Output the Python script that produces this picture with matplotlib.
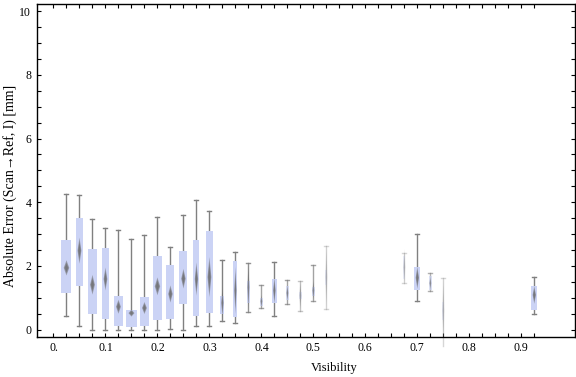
import numpy as np
import matplotlib
matplotlib.use("Agg")
import matplotlib.pyplot as plt
from matplotlib.patches import Polygon, Rectangle
from matplotlib.ticker import FixedLocator, FixedFormatter

plt.rcParams["font.family"] = ["Liberation Serif", "DejaVu Serif"]
plt.rcParams["font.size"] = 8.5

# visibility bins and box statistics
visibility = [0.025, 0.05, 0.075, 0.1, 0.125, 0.15, 0.175, 0.2, 0.225, 0.25,
              0.275, 0.3, 0.325, 0.35, 0.375, 0.4, 0.425, 0.45, 0.475, 0.5,
              0.525, 0.675, 0.7, 0.725, 0.75, 0.925]
whisk_lo = [0.44, 0.13, 0.0, 0.0, 0.0, 0.0, 0.0, 0.0, 0.02, 0.0,
            0.12, 0.12, 0.27, 0.21, 0.54, 0.69, 0.43, 0.81, 0.60, 0.89,
            0.65, 1.47, 0.90, 1.22, -0.5, 0.48]
q1 = [1.14, 1.36, 0.48, 0.34, 0.12, 0.07, 0.12, 0.29, 0.33, 0.80,
      0.42, 0.51, 0.48, 0.40, 0.84, 0.75, 0.83, 0.94, 0.95, 1.05,
      1.41, 1.60, 1.24, 1.25, 0.31, 0.61]
median = [1.94, 2.48, 1.41, 1.59, 0.72, 0.52, 0.68, 1.36, 1.12, 1.60,
          1.59, 1.65, 0.84, 1.23, 1.33, 0.89, 1.23, 1.15, 1.07, 1.23,
          1.65, 1.96, 1.63, 1.46, 0.60, 1.09]
q3 = [2.80, 3.49, 2.52, 2.55, 1.07, 0.63, 1.04, 2.30, 2.04, 2.48,
      2.80, 3.11, 1.07, 2.14, 1.54, 0.98, 1.60, 1.38, 1.19, 1.35,
      1.88, 2.30, 1.98, 1.68, 0.88, 1.38]
whisk_hi = [4.27, 4.24, 3.48, 3.20, 3.13, 2.85, 2.98, 3.54, 2.60, 3.61,
            4.08, 3.73, 2.19, 2.44, 2.08, 1.40, 2.13, 1.56, 1.54, 2.04,
            2.64, 2.41, 3.01, 1.78, 1.63, 1.66]
notch = [0.24, 0.41, 0.31, 0.36, 0.22, 0.11, 0.19, 0.28, 0.27, 0.31,
         0.52, 0.63, 0.47, 0.74, 0.74, 0.19, 0.42, 0.24, 0.47, 0.31,
         1.05, 0.58, 0.35, 0.19, 1.05, 0.28]
# relative sample weight (drives box width / opacity)
weight = [10, 7, 8.7, 6.7, 8.7, 10.7, 8.7, 9.7, 8, 8,
          6, 7, 4, 4, 3.3, 3, 4.3, 3, 2.3, 3,
          2, 2, 6, 2.7, 2, 6]

x_major = [0.0, 0.1, 0.2, 0.3, 0.4, 0.5, 0.6, 0.7, 0.8, 0.9]
x_labels = ["0.", "0.1", "0.2", "0.3", "0.4", "0.5", "0.6", "0.7", "0.8", "0.9"]

box_color = "#cbd3f5"
line_color = "#808080"

fig = plt.figure(figsize=(5.76, 3.77), dpi=100)
ax = fig.add_axes([0.064, 0.107, 0.934, 0.882])
ax.set_xlim(-0.032, 1.003)
ax.set_ylim(-0.22, 10.22)

px = 1.0 / 520.0  # one pixel in x data units
for x, lo, a, m, b, hi, nh, w in zip(visibility, whisk_lo, q1, median, q3,
                                     whisk_hi, notch, weight):
    alpha = float(np.clip((w - 1.2) / 2.5, 0.15, 1.0))
    cap = 2 * px
    ax.plot([x, x], [lo, hi], color=line_color, lw=1.0, alpha=alpha,
            zorder=2, clip_on=False)
    ax.plot([x - cap, x + cap], [hi, hi], color=line_color, lw=1.0, alpha=alpha, zorder=2)
    if lo >= 0:
        ax.plot([x - cap, x + cap], [lo, lo], color=line_color, lw=1.0, alpha=alpha, zorder=2)
    bw = w * px
    ax.add_patch(Rectangle((x - bw / 2, a), bw, b - a, facecolor=box_color,
                           edgecolor="none", alpha=alpha, zorder=3))
    dw = max(bw * 0.28, 1.0 * px)
    for s in (1.0, 0.75, 0.5):
        ax.add_patch(Polygon([[x - dw * s, m], [x, m + nh * s],
                              [x + dw * s, m], [x, m - nh * s]],
                             closed=True, facecolor="#6a6a6a", edgecolor="none",
                             alpha=0.5 * alpha, zorder=4))

ax.xaxis.set_major_locator(FixedLocator(x_major))
ax.xaxis.set_major_formatter(FixedFormatter(x_labels))
ax.xaxis.set_minor_locator(FixedLocator(np.arange(0, 0.926, 0.025)))
ax.set_yticks(np.arange(0, 11, 2))
ax.yaxis.set_minor_locator(FixedLocator(np.arange(0, 10.01, 0.5)))
ax.tick_params(which="both", direction="in", top=True, right=True,
               length=2.6, width=0.8, labelsize=8.5, pad=4)
for sp in ax.spines.values():
    sp.set_linewidth(1.0)

ax.set_xlabel("Visibility", fontsize=9)
ax.xaxis.set_label_coords(0.552, -0.075)
ax.set_ylabel("Absolute Error (Scan\u2192Ref, I) [mm]", fontsize=10)
ax.yaxis.set_label_coords(-0.036, 0.452)

fig.savefig("out.png", dpi=100)
